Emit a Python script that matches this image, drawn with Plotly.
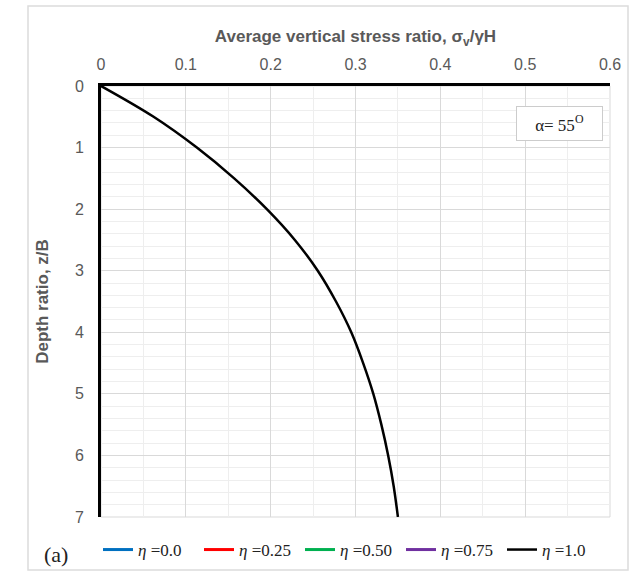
import plotly.graph_objects as go

# Data
depth_ratio = [0, 0.5, 1.0, 1.5, 2.0, 2.5, 3.0, 3.5, 4.0, 4.5, 5.0, 5.5, 6.0, 6.5, 7.0]
stress_eta_100 = [0, 0.062, 0.113, 0.157, 0.1955, 0.2285, 0.2555, 0.277, 0.295, 0.309, 0.321, 0.3305,
                  0.3385, 0.345, 0.350]

legend_names = ["<i>η</i> =0.0", "<i>η</i> =0.25", "<i>η</i> =0.50", "<i>η</i> =0.75", "<i>η</i> =1.0"]
legend_colors = ["#0070C0", "#FF0000", "#00B050", "#7030A0", "#000000"]

x_ticks = [0, 0.1, 0.2, 0.3, 0.4, 0.5, 0.6]
x_tick_labels = ["0", "0.1", "0.2", "0.3", "0.4", "0.5", "0.6"]
y_ticks = [0, 1, 2, 3, 4, 5, 6, 7]

fig = go.Figure()
for name, color in zip(legend_names[:-1], legend_colors[:-1]):
    fig.add_trace(go.Scatter(x=[None], y=[None], mode="lines", name=name,
                             line=dict(color=color, width=3)))
fig.add_trace(go.Scatter(x=stress_eta_100, y=depth_ratio, mode="lines",
                         name=legend_names[-1],
                         line=dict(color=legend_colors[-1], width=2.5, shape="spline", smoothing=1.0)))

grid_major = "#d9d9d9"
grid_minor = "#eeeeee"
label_color = "#595959"
sans = "Liberation Sans, Arial"

fig.update_layout(
    width=630, height=573,
    margin=dict(l=101, r=20, t=86, b=56, autoexpand=False),
    paper_bgcolor="white", plot_bgcolor="white",
    showlegend=True,
    legend=dict(orientation="h", xref="container", yref="container",
                x=98 / 630, xanchor="left", y=1 - 550 / 573, yanchor="middle",
                font=dict(family="Liberation Serif", size=17, color="#222222"),
                itemwidth=30, entrywidth=56, entrywidthmode="pixels",
                tracegroupgap=0, bgcolor="rgba(0,0,0,0)"),
    xaxis=dict(side="top", range=[0, 0.6], tickvals=x_ticks, ticktext=x_tick_labels,
               showgrid=True, gridcolor=grid_major, gridwidth=1,
               minor=dict(dtick=0.05, showgrid=True, gridcolor=grid_minor, gridwidth=1),
               showline=True, linecolor="black", linewidth=3, zeroline=False,
               ticks="", ticklabelstandoff=7,
               tickfont=dict(family=sans, size=16, color=label_color),
               title=dict(text="<b>Average vertical stress ratio, σ<sub>v</sub>/γH</b>", standoff=9,
                          font=dict(family=sans, size=17, color=label_color)),
               fixedrange=True),
    yaxis=dict(range=[7, 0], tickvals=y_ticks,
               showgrid=True, gridcolor=grid_major, gridwidth=1,
               minor=dict(dtick=0.2, showgrid=True, gridcolor=grid_minor, gridwidth=1),
               showline=True, linecolor="black", linewidth=3, zeroline=False,
               ticks="", ticklabelstandoff=11,
               tickfont=dict(family=sans, size=16, color=label_color),
               title=dict(text="<b>Depth ratio, z/B</b>", standoff=22,
                          font=dict(family=sans, size=17, color=label_color)),
               fixedrange=True),
)

# plot-area edge (right/bottom light gridline)
fig.add_shape(type="rect", xref="x domain", yref="y domain", x0=0, x1=1, y0=0, y1=1,
              line=dict(color=grid_major, width=1), layer="below")
# outer chart frame
fig.add_shape(type="rect", xref="paper", yref="paper",
              x0=(28 - 101) / 509, x1=(628 - 101) / 509,
              y0=-(570 - 517) / 431, y1=1 + (86 - 6) / 431,
              line=dict(color="#dcdcdc", width=1.5))

# alpha annotation box
fig.add_annotation(xref="paper", yref="paper", x=(559.5 - 101) / 509, y=1 - (123.5 - 86) / 431,
                   xanchor="center", yanchor="middle",
                   text="α= 55<sup>O</sup>", showarrow=False,
                   font=dict(family="Liberation Serif", size=17, color="#222222"),
                   bgcolor="white", bordercolor="#cccccc", borderwidth=1,
                   width=83, height=31, align="center")

# panel label
fig.add_annotation(xref="paper", yref="paper", x=(56 - 101) / 509, y=-(554 - 517) / 431,
                   xanchor="center", yanchor="middle",
                   text="(a)", showarrow=False,
                   font=dict(family="Liberation Serif", size=22, color="#222222"))

fig.write_html("out.html")
